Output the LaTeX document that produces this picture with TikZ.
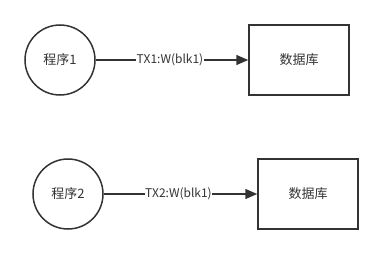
\documentclass[tikz,border=0pt]{standalone}
\usepackage{fontspec}
\setmainfont{Noto Sans CJK SC}
\usetikzlibrary{arrows.meta}
\definecolor{ink}{HTML}{333333}
\tikzset{
  prog/.style={draw=ink, circle, minimum size=70pt, inner sep=0pt, line width=1.5pt, text=ink},
  store/.style={draw=ink, minimum width=100pt, minimum height=70pt, line width=1.5pt, text=ink},
  tx/.style={draw=ink, line width=1.5pt, -{Triangle[length=12pt,width=10pt]}},
  txlabel/.style={fill=white, inner sep=0.5pt, text=ink, font=\fontsize{12}{14}\selectfont}
}
\begin{document}
\begin{tikzpicture}[x=1pt, y=-1pt, font=\fontsize{13}{15}\selectfont]
\useasboundingbox (0,0) rectangle (383,254);
\node[prog] (p1) at (60,60) {程序1};
\node[store] (db1) at (299,60) {数据库};
\node[prog] (p2) at (68,194) {程序2};
\node[store] (db2) at (308,194) {数据库};
\draw[tx] (p1) -- node[txlabel, xshift=-2pt] {TX1:W(blk1)} (db1);
\draw[tx] (p2) -- node[txlabel, xshift=-2pt] {TX2:W(blk1)} (db2);
\end{tikzpicture}
\end{document}
